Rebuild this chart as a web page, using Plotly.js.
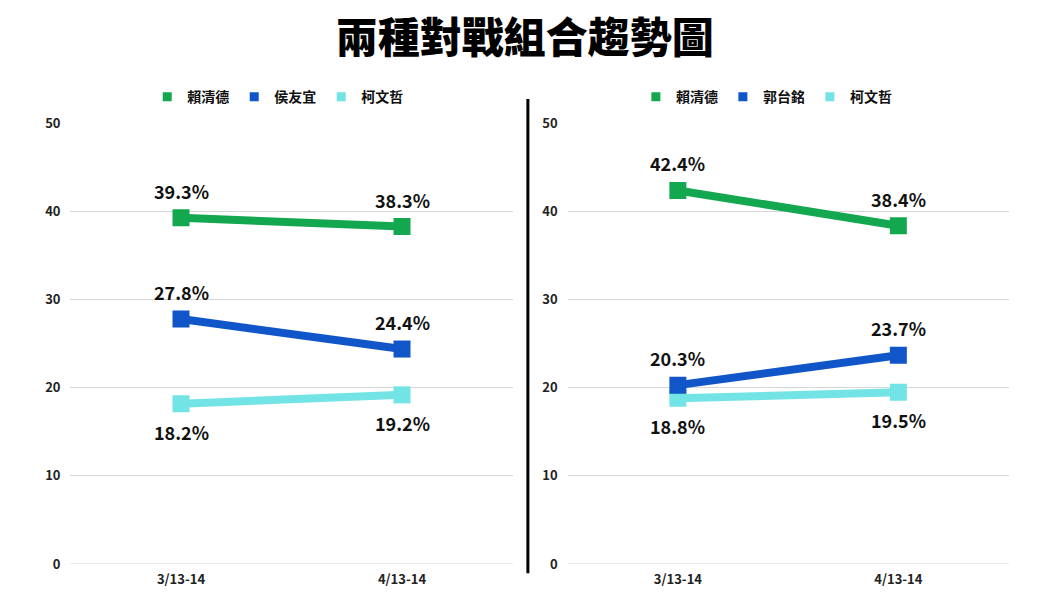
<!DOCTYPE html>
<html>
<head>
<meta charset="utf-8">
<script src="https://cdn.plot.ly/plotly-3.0.1.min.js"></script>
<style>
  html, body { margin: 0; padding: 0; background: #fff; }
  #chart { width: 1060px; height: 596px; }
</style>
</head>
<body>
<div id="chart"></div>
<script>
// data
var dates = ['3/13-14', '4/13-14'];

var names1 = ['賴清德', '侯友宜', '柯文哲'];
var lai1 = [39.3, 38.3];
var hou = [27.8, 24.4];
var ko1 = [18.2, 19.2];

var names2 = ['賴清德', '郭台銘', '柯文哲'];
var lai2 = [42.4, 38.4];
var gou = [20.3, 23.7];
var ko2 = [18.8, 19.5];

var green = '#13A84F';
var blue = '#1156C8';
var cyan = '#72E4E6';
var colors = [green, blue, cyan];

var cjk = '"Noto Sans CJK TC", "Noto Sans", sans-serif';

function line(y, color, xa, ya) {
  return {
    x: dates, y: y, xaxis: xa, yaxis: ya,
    type: 'scatter', mode: 'lines+markers',
    line: {color: color, width: 8},
    marker: {color: color, size: 17, symbol: 'square'},
    showlegend: false, hoverinfo: 'y'
  };
}

function legendItem(name, color, xa, ya, lg) {
  return {
    x: [null], y: [null], xaxis: xa, yaxis: ya,
    name: name, legend: lg,
    type: 'scatter', mode: 'markers',
    marker: {color: color, size: 9, symbol: 'square'}
  };
}

// cyan under blue under green, like the original
var data = [
  line(ko1, cyan, 'x', 'y'),
  line(hou, blue, 'x', 'y'),
  line(lai1, green, 'x', 'y'),
  line(ko2, cyan, 'x2', 'y2'),
  line(gou, blue, 'x2', 'y2'),
  line(lai2, green, 'x2', 'y2')
];
names1.forEach(function (n, i) { data.push(legendItem(n, colors[i], 'x', 'y', 'legend')); });
names2.forEach(function (n, i) { data.push(legendItem(n, colors[i], 'x2', 'y2', 'legend2')); });

// value labels: cyan below the point, the others above
var annotations = [];
function addLabels(series, xa, ya) {
  series.forEach(function (s, k) {
    s.forEach(function (v, i) {
      annotations.push({
        x: dates[i], y: v, xref: xa, yref: ya,
        text: v.toFixed(1) + '%', showarrow: false,
        yshift: k === 2 ? -28 : 27,
        font: {family: cjk, size: 18, color: '#111', weight: 'bold'}
      });
    });
  });
}
addLabels([lai1, hou, ko1], 'x', 'y');
addLabels([lai2, gou, ko2], 'x2', 'y2');

var tickFont = {family: cjk, size: 13, color: '#222', weight: 'bold'};

function xAxis(dom) {
  return {
    domain: dom, type: 'category', range: [-0.5, 1.5],
    showgrid: false, showline: false, zeroline: false,
    ticks: '', tickfont: tickFont, ticklabelstandoff: 6, fixedrange: true
  };
}
function yAxis(anchor) {
  return {
    domain: [0.0537, 0.7928], range: [0, 50], dtick: 10,
    anchor: anchor, showgrid: true, gridcolor: '#d6d6d6', gridwidth: 1,
    zeroline: true, zerolinecolor: '#ebebeb', zerolinewidth: 1,
    showline: false, ticks: '',
    tickfont: tickFont, ticklabelstandoff: 9, fixedrange: true
  };
}

var legendStyle = {
  orientation: 'h', xanchor: 'center', yanchor: 'middle', y: 0.837,
  font: {family: cjk, size: 14, color: '#111', weight: 'bold'},
  bgcolor: 'rgba(0,0,0,0)'
};

var layout = {
  width: 1060, height: 596,
  margin: {l: 0, r: 0, t: 0, b: 0},
  paper_bgcolor: '#fff', plot_bgcolor: '#fff',
  title: {
    text: '兩種對戰組合趨勢圖', x: 0.495, xanchor: 'center', y: 0.936, yanchor: 'middle',
    font: {family: cjk, size: 42, color: '#000', weight: 900}
  },
  xaxis: xAxis([0.0665, 0.4835]),
  yaxis: yAxis('x'),
  xaxis2: xAxis([0.5355, 0.9515]),
  yaxis2: yAxis('x2'),
  legend: Object.assign({x: 0.262}, legendStyle),
  legend2: Object.assign({x: 0.723}, legendStyle),
  annotations: annotations,
  shapes: [{
    type: 'line', xref: 'paper', yref: 'paper',
    x0: 0.498, x1: 0.498, y0: 0.038, y1: 0.834,
    line: {color: '#000', width: 3}
  }]
};

Plotly.newPlot('chart', data, layout, {displayModeBar: false, staticPlot: true});
</script>
</body>
</html>
